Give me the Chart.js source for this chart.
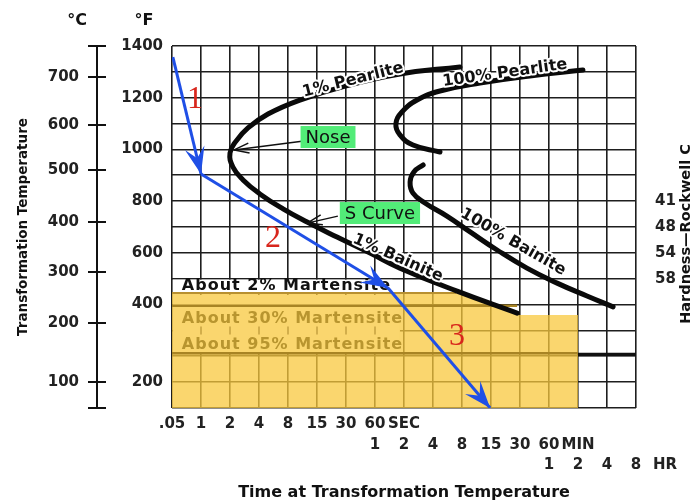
<!DOCTYPE html>
<html><head><meta charset="utf-8">
<script src="https://cdn.jsdelivr.net/npm/chart.js@4.4.1/dist/chart.umd.min.js"></script>
<style>html,body{margin:0;padding:0;background:#fff;}canvas{display:block;}</style>
</head><body>
<canvas id="c" width="696" height="504"></canvas>
<script>
// ---------------- data ----------------
const xRow1 = ['.05','1','2','4','8','15','30','60','SEC','','','','','','','',''];
const xRow2 = ['','','','','','','','1','2','4','8','15','30','60','MIN','',''];
const xRow3 = ['','','','','','','','','','','','','','1','2','4','8'];
const xRow3Extra = 'HR';
const fTickVals = [100,400,600,800,1000,1200,1400];
const fTickText = ['200','400','600','800','1000','1200','1400'];
const cTickVals = [0,100,329,526,719,920,1094,1280,1400];
const cTickText = ['','100','200','300','400','500','600','700',''];
const hTickVals = [800,700,600,500];
const hTickText = ['41','48','54','58'];

const curve1X = [9.93,7.86,5.97,4.41,3.31,2.62,2.21,2.00,2.10,2.45,3.03,3.83,4.66,5.69,6.83,7.86,9.83,11.90];
const curve1Y = [1319,1292,1245,1191,1137,1083,1032,986,932,882,828,770,719,661,599,541,452,367];
const pearl100X = [14.17,12.34,10.62,9.24,8.45,7.93,7.72,7.86,8.31,9.24];
const pearl100Y = [1307,1284,1257,1226,1191,1145,1098,1056,1017,990];
const bain100X = [8.66,8.34,8.21,8.31,8.72,9.48,10.28,11.21,12.24,13.28,14.31,15.21];
const bain100Y = [940,913,874,831,793,742,681,611,541,483,433,391];

const yellowX = [0,9.8,11.9,11.9,14,14];
const yellowY = [445,445,367,360,360,0];
const m2X = [0,9.8];   const m2Y = [445,445];
const m30X = [0,11.9]; const m30Y = [395,395];
const m95X = [0,14];   const m95Y = [212,212];
const mEndX = [14,16]; const mEndY = [207,207];

const arrow1X = [0.03,1.0];  const arrow1Y = [1357,905];
const arrow2X = [1.0,7.45];  const arrow2Y = [905,464];
const arrow3X = [7.45,10.97]; const arrow3Y = [464,0];

// ---------------- annotation layout (data units) ----------------
const curveLabels = [
  {text:'1% Pearlite', x:6.24, y:1268, angle:-14},
  {text:'100% Pearlite', x:11.48, y:1295, angle:-8},
  {text:'1% Bainite', x:7.79, y:580, angle:24},
  {text:'100% Bainite', x:11.76, y:642, angle:30}
];
const greenBoxes = [
  {text:'Nose', x:5.38, y:1048, from:[4.48,1032], to:[2.14,998]},
  {text:'S Curve', x:7.17, y:754, from:[5.72,742], to:[4.66,715]}
];
const stepNumbers = [
  {text:'1', x:0.79, y:1191},
  {text:'2', x:3.48, y:657},
  {text:'3', x:9.83, y:275}
];
const martLabels = [
  {text:'About 2% Martensite', x:0.34, y:472, color:'#111'},
  {text:'About 30% Martensite', x:0.34, y:344, color:'#b8952f'},
  {text:'About 95% Martensite', x:0.34, y:244, color:'#b8952f'}
];

const pts = (xs, ys) => xs.map((x,k) => ({x, y: ys[k]}));
const TICKFONT = {family:'DejaVu Sans', size:15, weight:'bold', lineHeight:1.37};
const YELLOW_IDX = 0;

function arrowHead(ctx,x0,y0,x1,y1,L,W,color){
  const a = Math.atan2(y1-y0,x1-x0);
  ctx.save(); ctx.translate(x1,y1); ctx.rotate(a);
  ctx.beginPath(); ctx.moveTo(0,0); ctx.lineTo(-L,-W); ctx.lineTo(-L*0.6,0); ctx.lineTo(-L,W); ctx.closePath();
  ctx.fillStyle = color; ctx.fill(); ctx.restore();
}
function openHead(ctx,x0,y0,x1,y1,L,W){
  const a = Math.atan2(y1-y0,x1-x0);
  ctx.save(); ctx.translate(x1,y1); ctx.rotate(a);
  ctx.beginPath(); ctx.moveTo(-L,-W); ctx.lineTo(0,0); ctx.lineTo(-L,W); ctx.stroke(); ctx.restore();
}

const extras = {
  id:'extras',
  afterDatasetDraw(chart, args){
    if (args.index !== YELLOW_IDX) return;
    const ctx = chart.ctx, xs = chart.scales.x, ys = chart.scales.y;
    const X = v => xs.getPixelForValue(v), Y = v => ys.getPixelForValue(v);
    ctx.save();
    ctx.fillStyle = '#fff';
    ctx.fillRect(X(0)+1, Y(500)+1, X(7.6)-X(0)-1, Y(445)-Y(500)-1);
    ctx.fillStyle = 'rgb(250,214,110)';
    ctx.fillRect(X(0)+1, Y(437), X(7.86)-X(0)-1, Y(213)-Y(437));
    ctx.strokeStyle = '#c4a040'; ctx.lineWidth = 1.5;
    for (let i=1;i<=7;i++){
      ctx.beginPath(); ctx.moveTo(X(i), Y(300)-4); ctx.lineTo(X(i), Y(300)+4); ctx.stroke();
    }
    ctx.font = 'bold 16px "DejaVu Sans"'; ctx.textAlign='left'; ctx.textBaseline='middle';
    try { ctx.letterSpacing = '1px'; } catch(e) {}
    martLabels.forEach(m => { ctx.fillStyle = m.color; ctx.fillText(m.text, X(m.x), Y(m.y)); });
    ctx.restore();
  },
  afterDatasetsDraw(chart){
    const ctx = chart.ctx, xs = chart.scales.x, ys = chart.scales.y;
    const X = v => xs.getPixelForValue(v), Y = v => ys.getPixelForValue(v);
    [[arrow1X,arrow1Y],[arrow2X,arrow2Y],[arrow3X,arrow3Y]].forEach(([ax,ay]) => {
      arrowHead(ctx, X(ax[0]),Y(ay[0]), X(ax[1]),Y(ay[1]), 27, 10, '#1f4fe6');
    });
    curveLabels.forEach(c => {
      ctx.save(); ctx.translate(X(c.x), Y(c.y)); ctx.rotate(c.angle*Math.PI/180);
      ctx.font = 'bold 16px "DejaVu Sans"'; ctx.textAlign='center'; ctx.textBaseline='middle';
      ctx.lineJoin='round'; ctx.lineWidth=4; ctx.strokeStyle='#fff'; ctx.strokeText(c.text,0,0);
      ctx.fillStyle='#111'; ctx.fillText(c.text,0,0); ctx.restore();
    });
    greenBoxes.forEach(g => {
      ctx.save();
      ctx.strokeStyle='#111'; ctx.lineWidth=1.5;
      const fx=X(g.from[0]), fy=Y(g.from[1]), tx=X(g.to[0]), ty=Y(g.to[1]);
      ctx.beginPath(); ctx.moveTo(fx,fy); ctx.lineTo(tx,ty); ctx.stroke();
      openHead(ctx,fx,fy,tx,ty,15,5);
      ctx.font = '18px "DejaVu Sans"';
      const w = ctx.measureText(g.text).width + 10, h = 22;
      const cx = X(g.x), cy = Y(g.y);
      ctx.fillStyle = '#52ec78'; ctx.fillRect(cx-w/2, cy-h/2, w, h);
      ctx.fillStyle = '#111'; ctx.textAlign='center'; ctx.textBaseline='middle';
      ctx.fillText(g.text, cx, cy+1);
      ctx.restore();
    });
    stepNumbers.forEach(s => {
      ctx.save(); ctx.font = '32px "Liberation Serif"'; ctx.fillStyle='#d8261c';
      ctx.textAlign='center'; ctx.textBaseline='middle';
      ctx.fillText(s.text, X(s.x), Y(s.y)); ctx.restore();
    });
  },
  afterDraw(chart){
    const ctx = chart.ctx, xs = chart.scales.x, yc = chart.scales.yC;
    ctx.save();
    ctx.strokeStyle='#111'; ctx.lineWidth=2;
    cTickVals.forEach(v => {
      const y = Math.round(yc.getPixelForValue(v));
      ctx.beginPath(); ctx.moveTo(yc.right-1, y); ctx.lineTo(yc.right+9, y); ctx.stroke();
    });
    ctx.fillStyle='#111'; ctx.textAlign='center'; ctx.textBaseline='middle';
    ctx.font='bold 16px "DejaVu Sans"';
    ctx.fillText('°C', 77, 21);
    ctx.fillText('°F', 144, 21);
    ctx.font='bold 15px "DejaVu Sans"'; ctx.fillStyle='#222';
    ctx.fillText(xRow3Extra, xs.getPixelForValue(17), 465);
    ctx.translate(686, 234); ctx.rotate(-Math.PI/2);
    ctx.font='bold 14.5px "DejaVu Sans"'; ctx.fillStyle='#111';
    ctx.fillText('Hardness\u2014Rockwell C', 0, 0);
    ctx.restore();
  }
};

const lineDs = (label, xs, ys, color, width, order, extra) => Object.assign({
  label, data: pts(xs, ys), borderColor: color, borderWidth: width, pointRadius: 0,
  fill: false, tension: 0, order, borderCapStyle: 'butt'
}, extra || {});
const SMOOTH = {tension:0.45, borderCapStyle:'round', borderJoinStyle:'round'};

new Chart(document.getElementById('c'), {
  type: 'line',
  data: { datasets: [
    {label:'Martensite zone', data: pts(yellowX, yellowY), fill:'origin',
     backgroundColor:'rgba(248,200,62,0.75)', borderWidth:0, pointRadius:0, tension:0, order:10},
    lineDs('About 2% Martensite', m2X, m2Y, '#b89030', 2, 8),
    lineDs('About 30% Martensite', m30X, m30Y, '#a88424', 2.5, 8),
    lineDs('About 95% Martensite', m95X, m95Y, '#a88424', 2.5, 8),
    lineDs('Mf extension', mEndX, mEndY, '#111', 3.5, 8),
    lineDs('1% curve', curve1X, curve1Y, '#0a0a0a', 5, 4, SMOOTH),
    lineDs('100% Pearlite', pearl100X, pearl100Y, '#0a0a0a', 5, 4, SMOOTH),
    lineDs('100% Bainite', bain100X, bain100Y, '#0a0a0a', 5, 4, SMOOTH),
    lineDs('Cooling 1', arrow1X, arrow1Y, '#1f4fe6', 3, 1),
    lineDs('Cooling 2', arrow2X, arrow2Y, '#1f4fe6', 3, 1),
    lineDs('Cooling 3', arrow3X, arrow3Y, '#1f4fe6', 3, 1)
  ]},
  options: {
    responsive:false, animation:false, devicePixelRatio:1,
    layout:{padding:{top:46,left:0,right:0,bottom:0}},
    plugins:{legend:{display:false}, tooltip:{enabled:false}},
    scales:{
      x:{type:'linear', min:0, max:16,
         ticks:{stepSize:1, autoSkip:false, maxRotation:0, padding:6, color:'#222', font:TICKFONT,
                callback:(v)=>[xRow1[v], xRow2[v], xRow3[v]]},
         grid:{color:'#1e1e1e', lineWidth:1.6, drawTicks:false},
         border:{display:false},
         title:{display:true, text:'Time at Transformation Temperature', color:'#111',
                font:{family:'DejaVu Sans', size:16, weight:'bold'}, padding:{top:0,bottom:2}},
         afterFit:(s)=>{ s.height = 96; }},
      y:{type:'linear', position:'left', min:0, max:1400, weight:0,
         ticks:{stepSize:100, autoSkip:false, padding:9, color:'#222', font:TICKFONT,
                callback:(v)=>{ const k=fTickVals.indexOf(v); return k<0?'':fTickText[k]; }},
         grid:{color:'#1e1e1e', lineWidth:1.6, drawTicks:false},
         border:{display:false},
         afterFit:(s)=>{ s.width = 75; }},
      yC:{type:'linear', position:'left', min:0, max:1400, weight:1,
          afterBuildTicks:(s)=>{ s.ticks = cTickVals.map(v=>({value:v})); },
          ticks:{autoSkip:false, padding:9, color:'#222', font:TICKFONT,
                 callback:(v,i)=>cTickText[i]},
          grid:{drawOnChartArea:false, drawTicks:true, tickLength:9, color:'#111', lineWidth:2},
          border:{display:true, color:'#111', width:2},
          title:{display:true, text:'Transformation Temperature', color:'#111',
                 font:{family:'DejaVu Sans', size:13.5, weight:'bold'}, padding:{top:15,bottom:0}},
          afterFit:(s)=>{ s.width = 97; }},
      yH:{type:'linear', position:'right', min:0, max:1400,
          afterBuildTicks:(s)=>{ s.ticks = hTickVals.map(v=>({value:v})); },
          ticks:{autoSkip:false, padding:11, color:'#222', font:TICKFONT,
                 callback:(v,i)=>hTickText[i]},
          grid:{display:false}, border:{display:false},
          afterFit:(s)=>{ s.width = 60; }}
    }
  },
  plugins:[extras]
});
</script>
</body></html>
